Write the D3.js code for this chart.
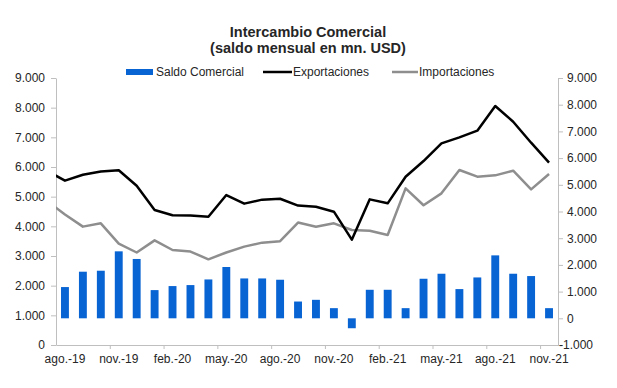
<!DOCTYPE html>
<html>
<head>
<meta charset="utf-8">
<script src="https://cdn.jsdelivr.net/npm/d3@7"></script>
<style>
  body { margin: 0; background: #fff; }
  text { font-family: "Liberation Sans", Arial, sans-serif; fill: #262626; }
  .axis path, .axis line { stroke: #bfbfbf; }
</style>
</head>
<body>
<div id="chart"></div>
<script>
// Meses visibles (ago.-19 .. nov.-21)
var meses = ["ago.-19","sep.-19","oct.-19","nov.-19","dic.-19","ene.-20","feb.-20","mar.-20","abr.-20",
  "may.-20","jun.-20","jul.-20","ago.-20","sep.-20","oct.-20","nov.-20","dic.-20","ene.-21","feb.-21",
  "mar.-21","abr.-21","may.-21","jun.-21","jul.-21","ago.-21","sep.-21","oct.-21","nov.-21"];

// saldo comercial (eje derecho)
var saldo = [1170, 1745, 1782, 2508, 2222, 1056, 1207, 1244, 1455, 1921, 1493, 1493, 1444, 628,
  692, 380, -372, 1068, 1068, 380, 1481, 1669, 1094, 1530, 2357, 1669, 1582, 380];

// exportaciones / importaciones (eje izquierdo)
var exportaciones = [5540, 5740, 5850, 5890, 5370, 4550, 4375, 4365, 4325, 5056, 4765, 4900, 4930, 4700,
  4660, 4494, 3550, 4909, 4775, 5673, 6200, 6798, 7000, 7224, 8055, 7527, 6819, 6145];
var importaciones = [4400, 3990, 4101, 3415, 3118, 3527, 3202, 3150, 2888, 3118, 3315, 3450, 3500, 4128,
  3988, 4101, 3876, 3853, 3707, 5281, 4710, 5112, 5898, 5673, 5718, 5875, 5247, 5763];

// jul.-19: las lineas vienen del mes anterior, recortadas en el eje
var exportPrevio = 5870;
var importPrevio = 4850;

var ticksIzq = [0, 1000, 2000, 3000, 4000, 5000, 6000, 7000, 8000, 9000];
var ticksDer = [-1000, 0, 1000, 2000, 3000, 4000, 5000, 6000, 7000, 8000, 9000];

var es = d3.formatLocale({decimal: ",", thousands: ".", grouping: [3], currency: ["", ""], minus: "-"});
var fmt = es.format(",d");

/** Dimensiones **/
var W = 617, H = 388;
var plot = {left: 56, right: 558, top: 78, bottom: 345};

var svg = d3.select("#chart").append("svg")
  .attr("width", W)
  .attr("height", H);

/** Escalas **/
var x = d3.scaleBand()
  .domain(meses)
  .range([plot.left, plot.right])
  .paddingInner(0.56)
  .paddingOuter(0.28);
var step = x.step();
var xc = function(m){ return x(m) + x.bandwidth() / 2; };

// limites de categorias, para las marcas del eje horizontal
var xLim = d3.scaleLinear().domain([0, meses.length]).range([plot.left, plot.right]);

var yIzq = d3.scaleLinear().domain([0, 9000]).range([plot.bottom, plot.top]);
var yDer = d3.scaleLinear().domain([-1000, 9000]).range([plot.bottom, plot.top]);

/** Titulo **/
var cx = (plot.left + plot.right) / 2 + 1;
svg.append("text")
  .attr("x", cx).attr("y", 37)
  .attr("text-anchor", "middle")
  .style("font-size", "14.5px").style("font-weight", "bold")
  .text("Intercambio Comercial");
svg.append("text")
  .attr("x", cx).attr("y", 52.5)
  .attr("text-anchor", "middle")
  .style("font-size", "14.5px").style("font-weight", "bold")
  .text("(saldo mensual en mn. USD)");

/** Ejes **/
var ejeIzq = svg.append("g")
  .attr("class", "axis")
  .attr("transform", "translate(" + plot.left + ",0)")
  .call(d3.axisLeft(yIzq).tickValues(ticksIzq).tickFormat(fmt).tickSize(5).tickSizeOuter(0).tickPadding(6));

var ejeDer = svg.append("g")
  .attr("class", "axis")
  .attr("transform", "translate(" + plot.right + ",0)")
  .call(d3.axisRight(yDer).tickValues(ticksDer).tickFormat(fmt).tickSize(5).tickSizeOuter(0).tickPadding(4));
// el signo menos queda por fuera, como en Excel
ejeDer.selectAll(".tick text").filter(function(d){ return d < 0; }).attr("x", 1);

svg.append("g")
  .attr("class", "axis")
  .attr("transform", "translate(0," + plot.bottom + ")")
  .call(d3.axisBottom(xLim).tickValues(d3.range(3, meses.length, 3)).tickFormat("").tickSize(4).tickSizeOuter(0));

svg.append("g")
  .attr("class", "axis etiquetas")
  .attr("transform", "translate(0," + plot.bottom + ")")
  .call(d3.axisBottom(x).tickValues(meses.filter(function(d, i){ return i % 3 === 0; })).tickSize(0).tickPadding(9))
  .call(function(g){ g.select(".domain").remove(); });

svg.selectAll(".axis text")
  .style("font-family", "'Liberation Sans', Arial, sans-serif")
  .style("font-size", "12px")
  .style("fill", "#262626");

/** Barras (saldo) **/
svg.selectAll(".barra")
  .data(meses)
  .enter().append("rect")
  .attr("class", "barra")
  .attr("x", function(d){ return x(d); })
  .attr("width", x.bandwidth())
  .attr("y", function(d, i){ return yDer(Math.max(0, saldo[i])); })
  .attr("height", function(d, i){ return Math.abs(yDer(saldo[i]) - yDer(0)); })
  .style("fill", "#0863d3");

/** Lineas **/
svg.append("clipPath").attr("id", "recorte")
  .append("rect")
  .attr("x", plot.left).attr("y", 0)
  .attr("width", plot.right - plot.left).attr("height", H);

var puntos = function(prev, serie){
  var p = [[xc(meses[0]) - step, yIzq(prev)]];
  meses.forEach(function(m, i){ p.push([xc(m), yIzq(serie[i])]); });
  return p;
};
var linea = d3.line();

svg.append("path")
  .attr("d", linea(puntos(importPrevio, importaciones)))
  .attr("clip-path", "url(#recorte)")
  .style("fill", "none")
  .style("stroke", "#8e8e8e")
  .style("stroke-width", 2.5)
  .style("stroke-linejoin", "round");

svg.append("path")
  .attr("d", linea(puntos(exportPrevio, exportaciones)))
  .attr("clip-path", "url(#recorte)")
  .style("fill", "none")
  .style("stroke", "#000")
  .style("stroke-width", 2.5)
  .style("stroke-linejoin", "round");

/** Leyenda **/
var ly = 72;
var leyenda = svg.append("g").style("font-size", "12px");
leyenda.append("rect")
  .attr("x", 126).attr("y", ly - 3).attr("width", 27).attr("height", 6)
  .style("fill", "#0863d3");
leyenda.append("text").attr("x", 156).attr("y", ly + 4.3).text("Saldo Comercial");
leyenda.append("line")
  .attr("x1", 263).attr("x2", 292).attr("y1", ly).attr("y2", ly)
  .style("stroke", "#000").style("stroke-width", 2.5);
leyenda.append("text").attr("x", 293).attr("y", ly + 4.3).text("Exportaciones");
leyenda.append("line")
  .attr("x1", 392).attr("x2", 418).attr("y1", ly).attr("y2", ly)
  .style("stroke", "#8e8e8e").style("stroke-width", 2.5);
leyenda.append("text").attr("x", 419).attr("y", ly + 4.3).text("Importaciones");
</script>
</body>
</html>
